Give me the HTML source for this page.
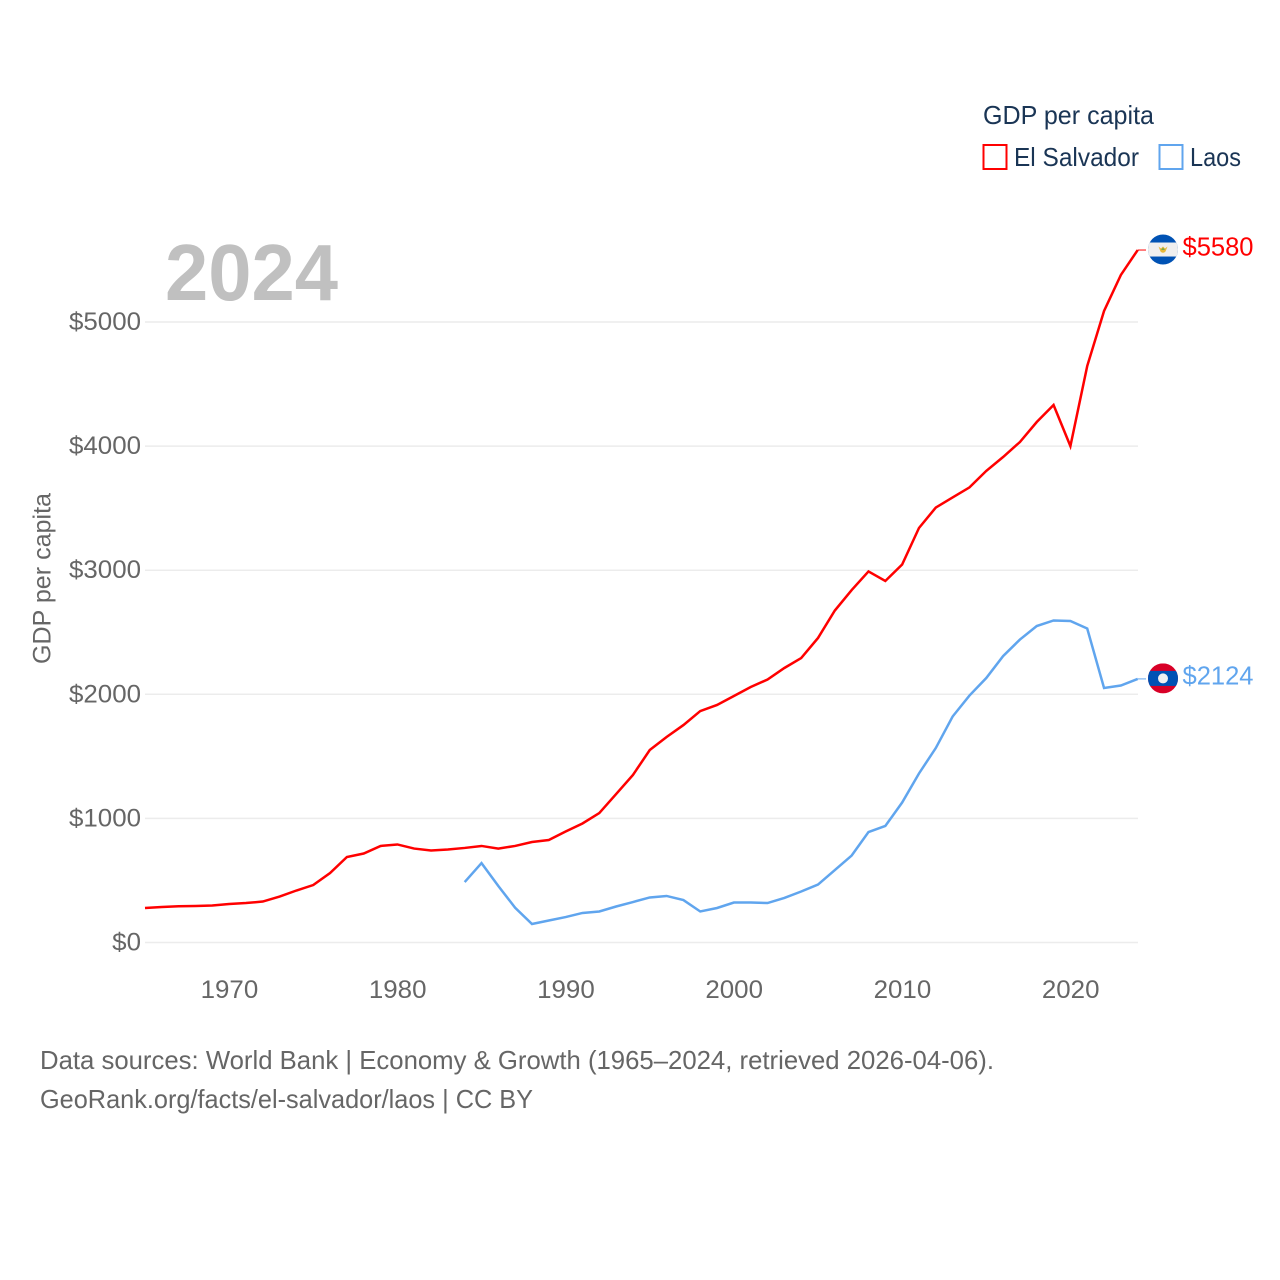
<!DOCTYPE html>
<html lang="en">
<head>
<meta charset="utf-8">
<title>GDP per capita: El Salvador and Laos</title>
<style>
html,body{margin:0;padding:0;background:#fff;width:1280px;height:1280px;overflow:hidden}
svg{display:block}
text{font-family:"Liberation Sans",sans-serif}
.tick{font-size:25px;fill:#666}
.legend{font-size:26px;fill:#1a3555}
.foot{font-size:26px;fill:#666}
</style>
</head>
<body>
<svg id="chart" width="1280" height="1280" viewBox="0 0 1280 1280" xmlns="http://www.w3.org/2000/svg">
  <defs>
    <clipPath id="flag-clip"><circle cx="0" cy="0" r="15"></circle></clipPath>
  </defs>
  <rect x="0" y="0" width="1280" height="1280" fill="#fff"></rect>
  <g id="grid"></g>
  <g id="y-ticks"></g>
  <g id="x-ticks"></g>
  <text x="165" y="300" font-size="80" font-weight="700" fill="#c0c0c0" textLength="173" lengthAdjust="spacingAndGlyphs">2024</text>
  <text class="tick" transform="translate(50.5,664) rotate(-90)" textLength="171" lengthAdjust="spacingAndGlyphs">GDP per capita</text>
  <g id="series"></g>

  <g>
    <text class="legend" x="983" y="124" textLength="171" lengthAdjust="spacingAndGlyphs">GDP per capita</text>
    <g>
      <rect x="983.5" y="145" width="23" height="24" fill="none" stroke="#ff0000" stroke-width="2"></rect>
      <text class="legend" x="1014" y="166" textLength="125" lengthAdjust="spacingAndGlyphs">El Salvador</text>
    </g>
    <g>
      <rect x="1159.5" y="145" width="23" height="24" fill="none" stroke="#60a5ee" stroke-width="2"></rect>
      <text class="legend" x="1190" y="166" textLength="51" lengthAdjust="spacingAndGlyphs">Laos</text>
    </g>
  </g>

  <g id="flag-sv">
    <g clip-path="url(#flag-clip)">
      <rect x="-15" y="-15" width="30" height="30" fill="#0052b4"></rect>
      <rect x="-15" y="-7" width="30" height="14" fill="#efefef"></rect>
    </g>
    <path d="M-4.5 -3 L-2.5 2 Q0 4.5 2.5 2 L4.5 -3 L2 -1 L0 -3 L-2 -1 Z" fill="#e8b93a"></path>
    <path d="M-2 0.5 L2 0.5 L0 -2 Z" fill="#7aa84a"></path>
  </g>
  <g id="flag-la">
    <g clip-path="url(#flag-clip)">
      <rect x="-15" y="-15" width="30" height="30" fill="#d80027"></rect>
      <rect x="-15" y="-7.5" width="30" height="15" fill="#0052b4"></rect>
    </g>
    <circle cx="0" cy="0" r="5" fill="#f0f0f0"></circle>
  </g>

  <text class="foot" x="40" y="1069" textLength="954" lengthAdjust="spacingAndGlyphs">Data sources: World Bank | Economy &amp; Growth (1965–2024, retrieved 2026-04-06).</text>
  <text class="foot" x="40" y="1108" textLength="493" lengthAdjust="spacingAndGlyphs">GeoRank.org/facts/el-salvador/laos | CC BY</text>
</svg>

<script>
const startYear = 1965;
const endYear = 2024;
const laosStartYear = 1984;
const yTickValues = [0, 1000, 2000, 3000, 4000, 5000];
const yTickLabels = ["$0", "$1000", "$2000", "$3000", "$4000", "$5000"];
const xTickValues = [1970, 1980, 1990, 2000, 2010, 2020];
const xTickLabels = ["1970", "1980", "1990", "2000", "2010", "2020"];
const elSalvadorValues = [278,286,292,294,298,310,318,330,370,419,463,560,689,717,778,790,757,741,749,762,778,757,778,810,826,894,959,1043,1196,1350,1551,1656,1752,1865,1914,1986,2059,2119,2212,2292,2454,2675,2840,2990,2913,3046,3340,3505,3586,3667,3800,3912,4033,4194,4331,4000,4645,5089,5379,5580];
const laosValues = [487,640,455,280,149,177,205,238,250,290,326,363,375,342,250,278,322,322,318,359,411,467,584,701,890,939,1128,1362,1567,1821,1990,2131,2308,2441,2550,2595,2591,2530,2051,2071,2124];

const NS = "http://www.w3.org/2000/svg";
function xScale(year) {
  return 145 + (year - startYear) * (1137.7 - 145) / (endYear - startYear);
}
function yScale(value) {
  return 942.5 - value * 0.1241;
}
function make(tag, attrs, parent, content) {
  const el = document.createElementNS(NS, tag);
  Object.keys(attrs).forEach(function (k) { el.setAttribute(k, attrs[k]); });
  if (content !== undefined) el.textContent = content;
  parent.appendChild(el);
  return el;
}

const grid = document.getElementById("grid");
const yTicks = document.getElementById("y-ticks");
yTickValues.forEach(function (v, i) {
  const line = make("line", {x1: 145, x2: 1138, y1: yScale(v), y2: yScale(v), stroke: "#ececec", "stroke-width": 1.5}, grid);
  
  
  const label = yTickLabels[i];
  const w = label.length * 14.4;
  const t = make("text", {class: "tick", x: 141 - w, y: yScale(v) + 8, textLength: w, lengthAdjust: "spacingAndGlyphs"}, yTicks, label);
  
  
});

const xTicks = document.getElementById("x-ticks");
xTickValues.forEach(function (yr, i) {
  const label = xTickLabels[i];
  const w = label.length * 14.4;
  const t = make("text", {class: "tick", x: xScale(yr) - w / 2 + 0.3, y: 998, textLength: w, lengthAdjust: "spacingAndGlyphs"}, xTicks, label);
  
  
});

const seriesGroup = document.getElementById("series");
function drawSeries(values, firstYear, color, flagId) {
  const pts = values.map(function (v, i) {
    return xScale(firstYear + i).toFixed(2) + "," + yScale(v).toFixed(2);
  }).join(" ");
  const line = make("polyline", {points: pts, fill: "none", stroke: color, "stroke-width": 2.5, "stroke-linejoin": "miter"}, seriesGroup);
  
  

  const last = values[values.length - 1];
  const lastY = yScale(last);
  const connector = make("line", {x1: xScale(endYear), x2: 1146, y1: lastY, y2: lastY, stroke: color, "stroke-width": 1}, seriesGroup);
  
  

  document.getElementById(flagId).setAttribute("transform", "translate(1163," + (lastY - 0.5) + ")");

  const label = "$" + last;
  const endLabel = make("text", {x: 1182.5, y: lastY + 5.5, fill: color, "font-size": 26, textLength: 71, lengthAdjust: "spacingAndGlyphs"}, seriesGroup, label);
  
  
}
drawSeries(elSalvadorValues, startYear, "#ff0000", "flag-sv");
drawSeries(laosValues, laosStartYear, "#60a5ee", "flag-la");
</script>
</body>
</html>
